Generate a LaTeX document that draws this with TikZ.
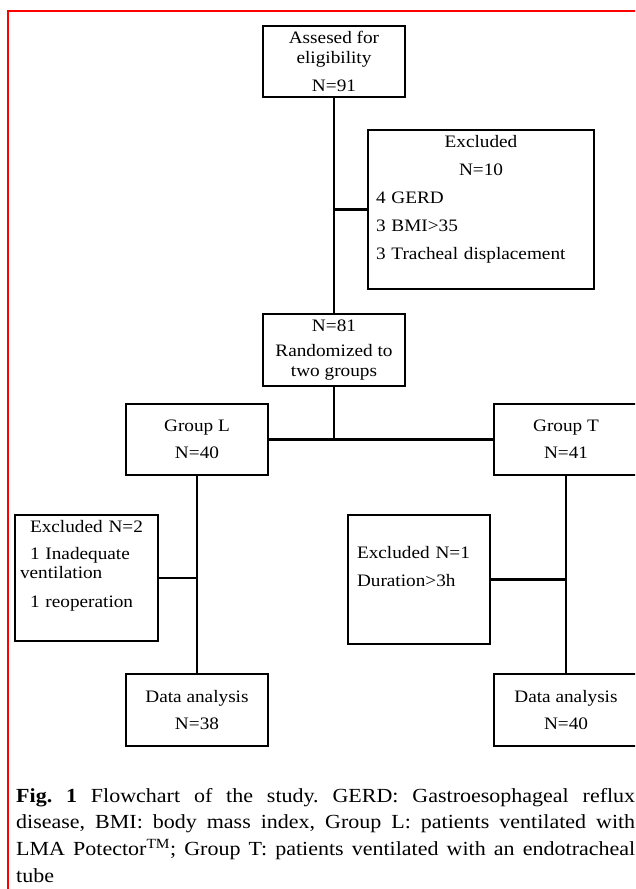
\documentclass[tikz,border=0pt]{standalone}
\usepackage{fontspec}
\setmainfont{Liberation Serif}[FakeStretch=1.1]
\usepackage{tikz}
\usetikzlibrary{positioning}
\definecolor{framered}{RGB}{255, 0, 0}

\tikzset{
  flowbox/.style={draw, line width=2.9pt, inner sep=0pt, minimum width=142pt, minimum height=71pt,
    align=center, font=\fontsize{17.5}{20}\selectfont},
  notebox/.style={flowbox, align=left},
  link/.style={line width=2.9pt},
}

\begin{document}
\begin{tikzpicture}[x=1pt, y=-1pt]
  \clip (0, 0) rectangle (635, 889);
  \draw[framered, line width=2pt] (8, 11) rectangle (650, 900);

  % Main column
  \node[flowbox] (assess) at (334, 61.5) {Assesed for\\eligibility\\[8pt]N=91};
  \node[notebox, minimum width=226pt, minimum height=159pt, text width=210pt] (excl10) at (481, 209.5)
    {{\centering Excluded\\[8pt]N=10\par}\vspace{8pt}\noindent 4 GERD\\[8pt]3 BMI>35\\[8pt]3 Tracheal displacement\\[4pt]\mbox{}};
  \node[flowbox, minimum height=72pt] (rand) at (334, 350) {N=81\\[5pt]Randomized to\\two groups};

  % Two arms
  \node[flowbox] (groupL) at (197, 439.5) {Group L\\[7pt]N=40};
  \node[flowbox, minimum width=144pt] (groupT) at (566, 439.5) {Group T\\[7pt]N=41};

  \node[notebox, minimum width=143pt, minimum height=126pt, text width=133pt] (excl2) at (86.5, 578)
    {{\centering Excluded N=2\par}\vspace{7pt}\noindent\hspace*{10pt}1 Inadequate\\[-1pt]ventilation\\[9pt]\hspace*{10pt}1 reoperation\\[9pt]\mbox{}};
  \node[notebox, minimum height=129pt, text width=124pt] (excl1) at (419, 579.5)
    {\noindent Excluded N=1\\[8pt]Duration>3h\\[7pt]\mbox{}};

  \node[flowbox, minimum height=72pt] (dataL) at (197, 710) {Data analysis\\[7pt]N=38};
  \node[flowbox, minimum width=144pt, minimum height=72pt] (dataT) at (566, 710) {Data analysis\\[7pt]N=40};

  % Connectors
  \draw[link] (assess) -- (rand);
  \draw[link] (excl10) -- (excl10 -| assess);
  \draw[link] (rand) -- (rand |- groupL);
  \draw[link] (groupL) -- (groupT);
  \draw[link] (groupL) -- (dataL);
  \draw[link] (excl2) -- (excl2 -| groupL);
  \draw[link] (groupT) -- (dataT);
  \draw[link] (excl1) -- (excl1 -| groupT);

  % Caption
  \node[anchor=north west, inner sep=0pt, text width=619pt, align=justify,
    font=\fontsize{20}{26.7}\selectfont] (caption) at (16, 788)
    {\frenchspacing\tolerance=10000\noindent\textbf{Fig. 1} Flowchart of the study. GERD: Gastroesophageal reflux\linebreak
     disease, BMI: body mass index, Group L: patients ventilated with\linebreak
     LMA Potector\textsuperscript{TM}; Group T: patients ventilated with an endotracheal\linebreak
     tube};
\end{tikzpicture}
\end{document}
